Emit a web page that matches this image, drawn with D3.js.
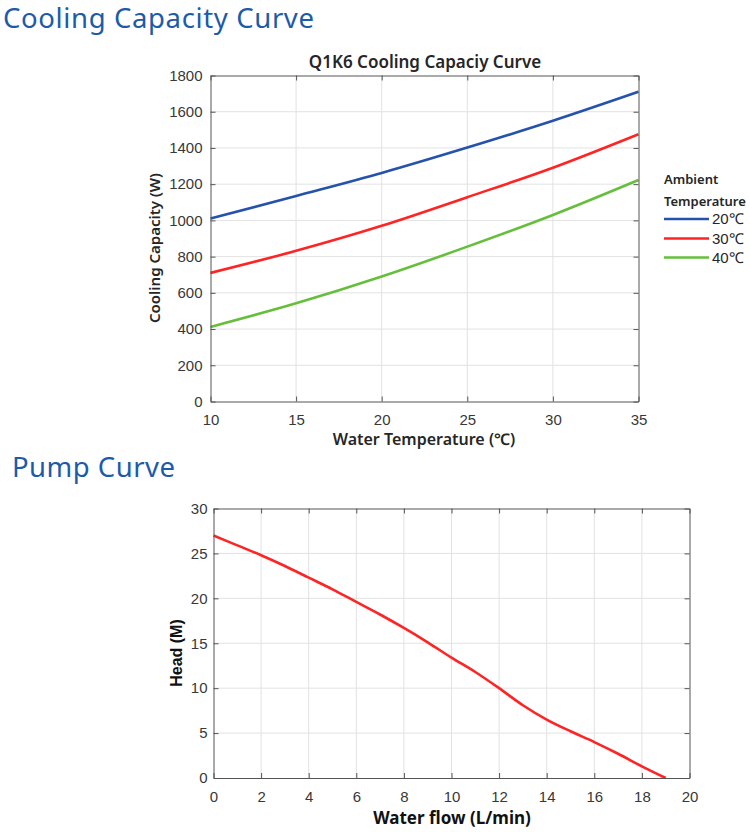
<!DOCTYPE html>
<html>
<head>
<meta charset="utf-8">
<script src="https://cdn.jsdelivr.net/npm/d3@7"></script>
<style>
  html, body { margin: 0; padding: 0; background: #fff; }
  svg { display: block; }
</style>
</head>
<body>
<svg id="chart" width="750" height="832"></svg>
<script>
// ---------- Data ----------
const tempX = [10, 15, 20, 25, 30, 35];
const cap20 = [1010, 1135, 1262, 1402, 1550, 1710];
const cap30 = [710, 832, 970, 1128, 1291, 1476];
const cap40 = [412, 542, 690, 855, 1030, 1223];
const seriesNames = ["20℃", "30℃", "40℃"];
const capXTicks = [10, 15, 20, 25, 30, 35];
const capYTicks = [0, 200, 400, 600, 800, 1000, 1200, 1400, 1600, 1800];

const flowX = [0, 1, 2, 3, 4, 5, 6, 7, 8, 9, 10, 11, 12, 13, 14, 15, 16, 17, 18, 19];
const headM = [27.0, 25.9, 24.8, 23.6, 22.3, 21.0, 19.6, 18.2, 16.7, 15.1, 13.4, 11.8, 10.0, 8.1, 6.5, 5.2, 4.0, 2.7, 1.3, 0];
const flowTicks = [0, 2, 4, 6, 8, 10, 12, 14, 16, 18, 20];
const headTicks = [0, 5, 10, 15, 20, 25, 30];

// ---------- Styles ----------
const colors = ["#2553ab", "#ff2424", "#66bf3c"];
const headerColor = "#1d5ba8";
const axisColor = "#555";
const gridColor = "#e2e2e2";
const tickFont = "'Liberation Sans', Arial, sans-serif";
const labelFont = "'Noto Sans', 'Open Sans', sans-serif";

const svg = d3.select("#chart");

// Section headers
svg.append("text").attr("x", 3).attr("y", 28)
  .attr("font-family", labelFont).attr("font-size", 27.5).attr("fill", headerColor)
  .attr("textLength", 311).attr("lengthAdjust", "spacing")
  .text("Cooling Capacity Curve");
svg.append("text").attr("x", 12).attr("y", 477)
  .attr("font-family", labelFont).attr("font-size", 27.5).attr("fill", headerColor)
  .attr("textLength", 163).attr("lengthAdjust", "spacing")
  .text("Pump Curve");

function drawFrame(g, x, y, xTicks, yTicks) {
  const [x0, x1] = x.range();
  const [y0, y1] = y.range();
  g.append("g").selectAll("line").data(xTicks.slice(1, -1)).join("line")
    .attr("x1", d => x(d)).attr("x2", d => x(d)).attr("y1", y0).attr("y2", y1)
    .attr("stroke", gridColor).attr("stroke-width", 1);
  g.append("g").selectAll("line").data(yTicks.slice(1, -1)).join("line")
    .attr("x1", x0).attr("x2", x1).attr("y1", d => y(d)).attr("y2", d => y(d))
    .attr("stroke", gridColor).attr("stroke-width", 1);
}

function drawAxes(g, x, y, xTicks, yTicks, yPad) {
  const [x0, x1] = x.range();
  const [y0, y1] = y.range();
  const fmt = d3.format("d");
  const style = sel => {
    sel.select(".domain").attr("stroke", axisColor).attr("stroke-width", 1);
    sel.selectAll(".tick line").attr("stroke", axisColor).attr("stroke-width", 1);
    sel.selectAll(".tick text").attr("font-family", tickFont).attr("font-size", 15).attr("fill", "#383838");
  };
  g.append("g").attr("transform", `translate(0,${y0})`)
    .call(d3.axisBottom(x).tickValues(xTicks).tickFormat(fmt).tickSizeInner(-5).tickSizeOuter(0).tickPadding(13))
    .call(style);
  g.append("g").attr("transform", `translate(0,${y1})`)
    .call(d3.axisTop(x).tickValues(xTicks).tickSizeInner(-5).tickSizeOuter(0).tickFormat(""))
    .call(style);
  g.append("g").attr("transform", `translate(${x0},0)`)
    .call(d3.axisLeft(y).tickValues(yTicks).tickFormat(fmt).tickSizeInner(-5).tickSizeOuter(0).tickPadding(yPad))
    .call(style);
  g.append("g").attr("transform", `translate(${x1},0)`)
    .call(d3.axisRight(y).tickValues(yTicks).tickSizeInner(-5).tickSizeOuter(0).tickFormat(""))
    .call(style);
}

// ---------- Chart 1: Cooling capacity ----------
{
  const g = svg.append("g");
  const x = d3.scaleLinear().domain([10, 35]).range([210.5, 638.5]);
  const y = d3.scaleLinear().domain([0, 1800]).range([401.5, 75.5]);
  drawFrame(g, x, y, capXTicks, capYTicks);

  const line = d3.line().x(d => x(d[0])).y(d => y(d[1])).curve(d3.curveMonotoneX);
  [cap20, cap30, cap40].forEach((s, i) => {
    g.append("path").datum(tempX.map((t, j) => [t, s[j]]))
      .attr("fill", "none").attr("stroke", colors[i]).attr("stroke-width", 2.6)
      .attr("d", line);
  });
  drawAxes(g, x, y, capXTicks, capYTicks, 8);

  g.append("text").attr("x", 425).attr("y", 68).attr("text-anchor", "middle")
    .attr("font-family", labelFont).attr("font-size", 17).attr("font-weight", 600).attr("fill", "#262626")
    .text("Q1K6 Cooling Capaciy Curve");
  g.append("text").attr("x", 424).attr("y", 445).attr("text-anchor", "middle")
    .attr("font-family", labelFont).attr("font-size", 16).attr("font-weight", 600).attr("fill", "#262626")
    .text("Water Temperature (℃)");
  g.append("text").attr("transform", "translate(160,248) rotate(-90)").attr("text-anchor", "middle")
    .attr("font-family", labelFont).attr("font-size", 15).attr("font-weight", 600).attr("fill", "#262626")
    .text("Cooling Capacity (W)");

  // legend
  const lg = g.append("g");
  lg.append("text").attr("x", 664).attr("y", 184)
    .attr("font-family", labelFont).attr("font-size", 13).attr("font-weight", 600).attr("fill", "#262626")
    .text("Ambient");
  lg.append("text").attr("x", 664).attr("y", 206)
    .attr("font-family", labelFont).attr("font-size", 13).attr("font-weight", 600).attr("fill", "#262626")
    .text("Temperature");
  const ly = [219, 238.5, 257.5];
  seriesNames.forEach((n, i) => {
    lg.append("line").attr("x1", 664).attr("x2", 709).attr("y1", ly[i]).attr("y2", ly[i])
      .attr("stroke", colors[i]).attr("stroke-width", 2.6);
    lg.append("text").attr("x", 712).attr("y", ly[i] + 5)
      .attr("font-family", tickFont).attr("font-size", 15).attr("fill", "#262626")
      .text(n);
  });
}

// ---------- Chart 2: Pump curve ----------
{
  const g = svg.append("g");
  const x = d3.scaleLinear().domain([0, 20]).range([213.5, 689.5]);
  const y = d3.scaleLinear().domain([0, 30]).range([778, 508.5]);
  drawFrame(g, x, y, flowTicks, headTicks);

  const line = d3.line().x(d => x(d[0])).y(d => y(d[1])).curve(d3.curveMonotoneX);
  g.append("path").datum(flowX.map((f, j) => [f, headM[j]]))
    .attr("fill", "none").attr("stroke", "#ff2424").attr("stroke-width", 2.6)
    .attr("d", line);
  drawAxes(g, x, y, flowTicks, headTicks, 6);

  g.append("text").attr("x", 452).attr("y", 824).attr("text-anchor", "middle")
    .attr("font-family", labelFont).attr("font-size", 17).attr("font-weight", 700).attr("fill", "#111")
    .text("Water flow (L/min)");
  g.append("text").attr("transform", "translate(182,653) rotate(-90)").attr("text-anchor", "middle")
    .attr("font-family", tickFont).attr("font-size", 16).attr("font-weight", 700).attr("fill", "#111")
    .text("Head (M)");
}
</script>
</body>
</html>
